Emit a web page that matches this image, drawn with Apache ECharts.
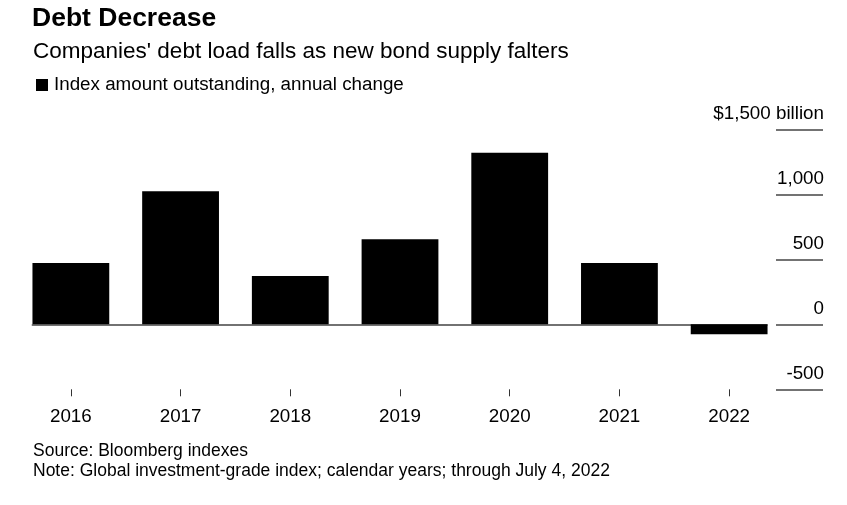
<!DOCTYPE html>
<html><head><meta charset="utf-8">
<script src="https://cdn.jsdelivr.net/npm/echarts@6/dist/echarts.min.js"></script>
<style>html,body{margin:0;padding:0;background:#fff}#c{width:847px;height:505px}</style>
</head><body><div id="c"></div>
<script>
const categories = ['2016','2017','2018','2019','2020','2021','2022'];
const values = [471, 1023, 372, 654, 1320, 471, -77];
const yTicks = [-500, 0, 500, 1000, 1500];
const seriesName = 'Index amount outstanding, annual change';
const titleText = 'Debt Decrease';
const subtitleText = "Companies' debt load falls as new bond supply falters";
const sourceText = 'Source: Bloomberg indexes';
const noteText = 'Note: Global investment-grade index; calendar years; through July 4, 2022';

const FONT = '"Liberation Sans", Arial, sans-serif';
const chart = echarts.init(document.getElementById('c'), null, {renderer:'canvas'});
const yMin = yTicks[0], yMax = yTicks[yTicks.length-1];
chart.setOption({
  animation:false,
  backgroundColor:'#fff',
  textStyle:{fontFamily:FONT},
  title:[
    {text:titleText, left:32, top:5, padding:0, textStyle:{fontFamily:FONT, fontSize:26.5, fontWeight:'bold', color:'#000'}},
    {text:subtitleText, left:33, top:40, padding:0, textStyle:{fontFamily:FONT, fontSize:22.5, fontWeight:'normal', color:'#000'}},
    {text:sourceText, left:33, top:442, padding:0, textStyle:{fontFamily:FONT, fontSize:17.5, fontWeight:'normal', color:'#000'}},
    {text:noteText, left:33, top:462, padding:0, textStyle:{fontFamily:FONT, fontSize:17.5, fontWeight:'normal', color:'#000'}}
  ],
  legend:{left:36, top:75.5, padding:0, itemWidth:12, itemHeight:12, itemGap:6, icon:'rect',
    textStyle:{fontFamily:FONT, fontSize:18.8, color:'#000', padding:[0,0,0,1]}, data:[seriesName]},
  grid:[
    {left:16, width:768, top:129.3, height:260},
    {left:32.3, width:734.7, top:129.3, height:260},
    {left:776, width:47, top:129.3, height:260}
  ],
  xAxis:[
    {type:'category', gridIndex:0, data:categories, position:'bottom',
     axisLine:{show:false, onZero:false}, axisTick:{show:true, alignWithLabel:true, length:7, lineStyle:{color:'#333'}},
     axisLabel:{margin:18, fontFamily:FONT, fontSize:18.8, color:'#000'}},
    {type:'category', gridIndex:1, data:categories, axisLine:{show:true, onZero:true, lineStyle:{color:'#444', width:1.5}},
     axisTick:{show:false}, axisLabel:{show:false}},
    {type:'value', gridIndex:2, show:false}
  ],
  yAxis:[
    {type:'value', gridIndex:0, min:yMin, max:yMax, interval:500, show:false, splitLine:{show:false}},
    {type:'value', gridIndex:1, min:yMin, max:yMax, interval:500, show:false, splitLine:{show:false}},
    {type:'value', gridIndex:2, min:yMin, max:yMax, interval:500, position:'right',
     axisLine:{show:false}, axisTick:{show:false},
     splitLine:{show:true, lineStyle:{color:'#444', width:1.5}},
     axisLabel:{inside:true, margin:-1, align:'right', verticalAlign:'bottom', padding:[0,0,6,0],
       fontFamily:FONT, fontSize:18.8, color:'#000',
       formatter:function(v){ var s = Math.abs(v).toLocaleString('en-US'); s = (v<0?'-':'')+s; return v===yMax ? '$'+s+' billion' : s; }}}
  ],
  series:[
    {name:seriesName, type:'bar', xAxisIndex:0, yAxisIndex:0, data:values, barCategoryGap:'30%',
     itemStyle:{color:'#000'}, z:3}
  ]
});
</script></body></html>
